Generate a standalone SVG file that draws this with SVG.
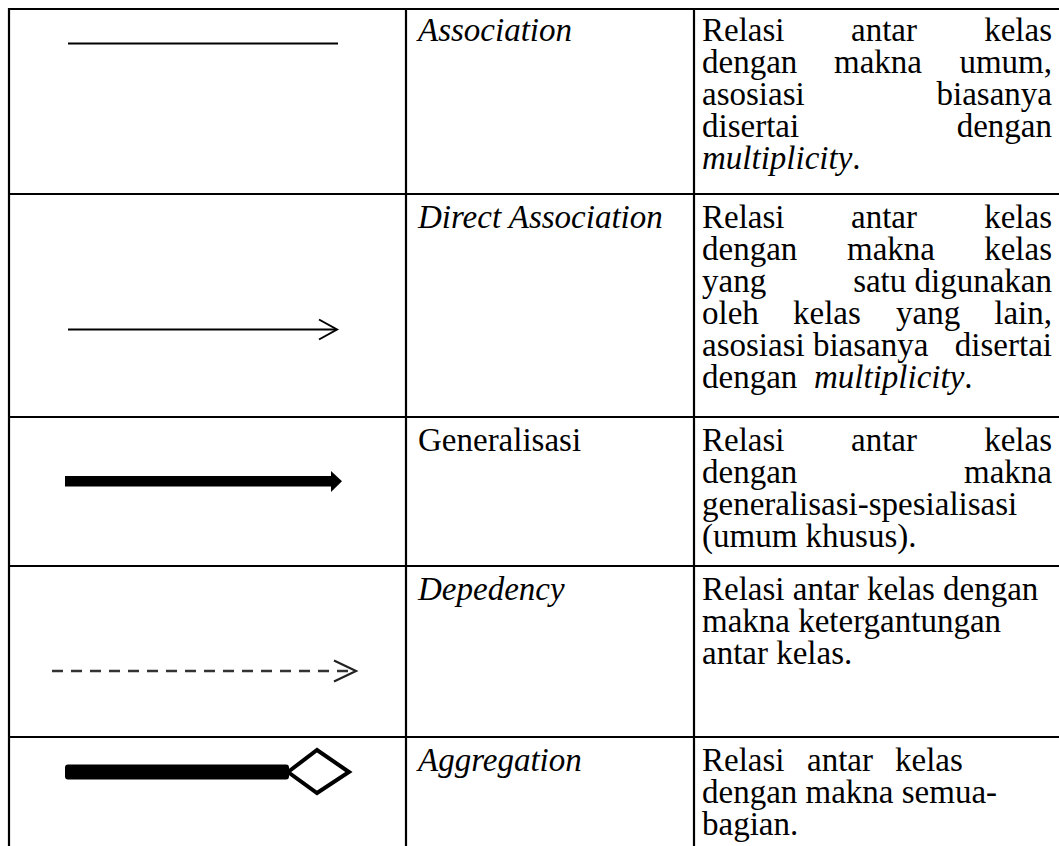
<svg xmlns="http://www.w3.org/2000/svg" width="1059" height="846" viewBox="0 0 1059 846">
  <style>
    .grid { stroke: #000; stroke-width: 2.2; fill: none; }
    .t { font-family: "Liberation Serif", "Times New Roman", serif; font-size: 33px; fill: #000; }
    .i { font-style: italic; }
    .e { text-anchor: end; }
    .thin { stroke: #000; stroke-width: 2; fill: none; }
  </style>
  <rect width="1059" height="846" fill="#fff"/>

  <!-- table grid -->
  <g id="grid" class="grid">
    <line x1="9" y1="9" x2="1059" y2="9"/>
    <line x1="9" y1="8" x2="9" y2="846"/>
    <line x1="406" y1="9" x2="406" y2="846"/>
    <line x1="694" y1="9" x2="694" y2="846"/>
    <line x1="9" y1="194" x2="1059" y2="194"/>
    <line x1="9" y1="417" x2="1059" y2="417"/>
    <line x1="9" y1="566" x2="1059" y2="566"/>
    <line x1="9" y1="737" x2="1059" y2="737"/>
  </g>

  <!-- relation symbols -->
  <g id="connectors">
    <g id="association">
      <line class="thin" x1="68" y1="43.5" x2="338" y2="43.5"/>
    </g>
    <g id="direct-association">
      <line class="thin" x1="68" y1="329.5" x2="336" y2="329.5"/>
      <polyline class="thin" points="319,319.5 337,329.5 319,339.5"/>
    </g>
    <g id="generalisasi">
      <rect x="65" y="476" width="267" height="10.5" fill="#000"/>
      <polygon points="331,471 342,481.3 331,492" fill="#000"/>
    </g>
    <g id="dependency">
      <line x1="52" y1="671" x2="352" y2="671" stroke="#333" stroke-width="2.4" stroke-dasharray="11,8"/>
      <polyline points="334,660.5 356,671 334,681.5" fill="none" stroke="#222" stroke-width="2.2"/>
    </g>
    <g id="aggregation">
      <rect x="65" y="764.5" width="224" height="15" rx="3" fill="#000"/>
      <polygon points="288,772 317,750 349,772 317,793" fill="#fff" stroke="#000" stroke-width="4" stroke-linejoin="miter"/>
    </g>
  </g>

  <!-- row 1 -->
  <g id="row-association">
    <text class="t i" x="418" y="41">Association</text>
    <text class="t" x="702" y="41">Relasi</text>
    <text class="t" x="851" y="41">antar</text>
    <text class="t e" x="1052" y="41">kelas</text>
    <text class="t" x="702" y="73">dengan</text>
    <text class="t" x="834" y="73">makna</text>
    <text class="t e" x="1052" y="73">umum,</text>
    <text class="t" x="702" y="105">asosiasi</text>
    <text class="t e" x="1052" y="105">biasanya</text>
    <text class="t" x="702" y="137">disertai</text>
    <text class="t e" x="1052" y="137">dengan</text>
    <text class="t" x="702" y="169"><tspan class="i">multiplicity</tspan>.</text>
  </g>

  <!-- row 2 -->
  <g id="row-direct-association">
    <text class="t i" x="418" y="228">Direct Association</text>
    <text class="t" x="702" y="228">Relasi</text>
    <text class="t" x="851" y="228">antar</text>
    <text class="t e" x="1052" y="228">kelas</text>
    <text class="t" x="702" y="260">dengan</text>
    <text class="t" x="847" y="260">makna</text>
    <text class="t e" x="1052" y="260">kelas</text>
    <text class="t" x="702" y="292">yang</text>
    <text class="t e" x="1052" y="292">satu digunakan</text>
    <text class="t" x="702" y="324">oleh</text>
    <text class="t" x="793" y="324">kelas</text>
    <text class="t" x="896" y="324">yang</text>
    <text class="t e" x="1052" y="324">lain,</text>
    <text class="t" x="702" y="356">asosiasi biasanya</text>
    <text class="t e" x="1052" y="356">disertai</text>
    <text class="t" x="702" y="388">dengan <tspan x="814" class="i">multiplicity</tspan>.</text>
  </g>

  <!-- row 3 -->
  <g id="row-generalisasi">
    <text class="t" x="418" y="451">Generalisasi</text>
    <text class="t" x="702" y="451">Relasi</text>
    <text class="t" x="851" y="451">antar</text>
    <text class="t e" x="1052" y="451">kelas</text>
    <text class="t" x="702" y="483">dengan</text>
    <text class="t e" x="1052" y="483">makna</text>
    <text class="t" x="702" y="515">generalisasi-spesialisasi</text>
    <text class="t" x="702" y="547">(umum khusus).</text>
  </g>

  <!-- row 4 -->
  <g id="row-dependency">
    <text class="t i" x="418" y="600">Depedency</text>
    <text class="t" x="702" y="600">Relasi antar kelas dengan</text>
    <text class="t" x="702" y="632">makna ketergantungan</text>
    <text class="t" x="702" y="664">antar kelas.</text>
  </g>

  <!-- row 5 -->
  <g id="row-aggregation">
    <text class="t i" x="418" y="771">Aggregation</text>
    <text class="t" x="702" y="771">Relasi</text>
    <text class="t" x="807" y="771">antar</text>
    <text class="t" x="895" y="771">kelas</text>
    <text class="t" x="702" y="803">dengan makna semua-</text>
    <text class="t" x="702" y="835">bagian.</text>
  </g>
</svg>
